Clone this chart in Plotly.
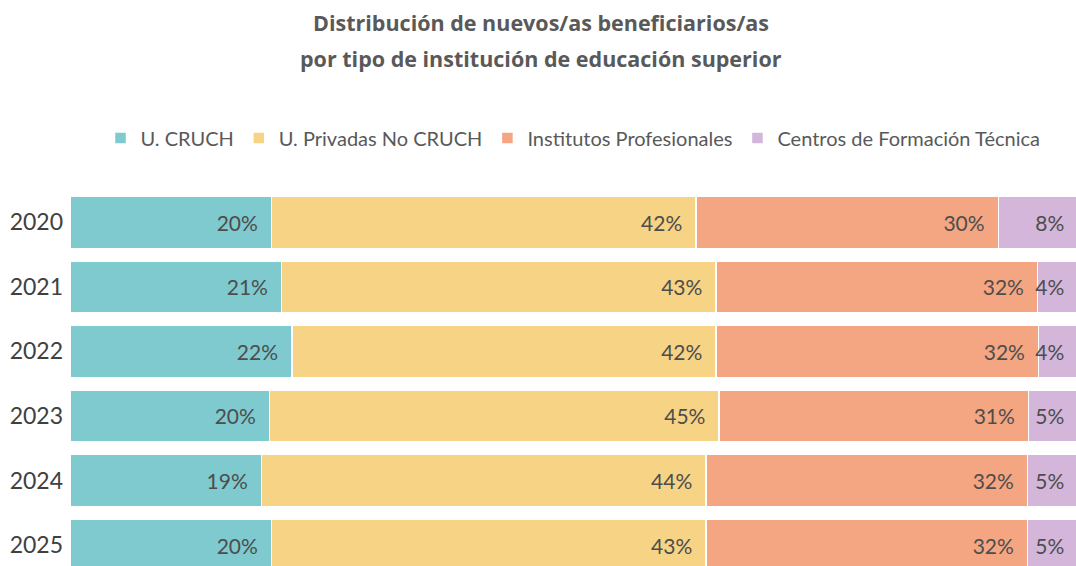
import plotly.graph_objects as go

years = ["2020", "2021", "2022", "2023", "2024", "2025"]
series_names = ["U. CRUCH", "U. Privadas No CRUCH", "Institutos Profesionales", "Centros de Formación Técnica"]
cruch = [20.0, 21.0, 22.0, 19.8, 19.0, 20.0]
privadas = [42.1, 43.1, 42.1, 44.6, 44.1, 43.1]
institutos = [30.0, 31.9, 32.0, 30.7, 31.9, 31.9]
cft = [7.9, 4.0, 3.9, 4.9, 5.0, 5.0]
colors = ["#7ECACF", "#F7D385", "#F4A582", "#D3B6DA"]

W, H = 1076, 566
L, T = 70, 190

fig = go.Figure()
for name, vals, col in zip(series_names, [cruch, privadas, institutos, cft], colors):
    fig.add_trace(go.Bar(
        y=years, x=vals, name=name, orientation="h",
        marker=dict(color=col, line=dict(color="white", width=1.5)),
        texttemplate="%{x:.0f}%\u00a0\u00a0",
        textposition="inside", insidetextanchor="end", textangle=0,
        constraintext="none",
        textfont=dict(family="Lato", size=21, color="#4d4d4d"),
        hoverinfo="skip",
    ))

title_font = dict(family="Open Sans", size=21.5, color="#595959")
fig.update_layout(
    barmode="stack",
    bargap=0.195,
    width=W, height=H,
    margin=dict(l=L, r=0, t=T, b=0, autoexpand=False),
    paper_bgcolor="white", plot_bgcolor="white",
    font=dict(family="Lato", color="#595959"),
    uniformtext=dict(mode="show", minsize=21),
    title=dict(
        text="<b>Distribución de nuevos/as beneficiarios/as</b>",
        x=541 / W, xref="container", xanchor="center",
        y=1 - 23 / H, yref="container", yanchor="middle",
        font=title_font,
    ),
    annotations=[dict(
        text="<b>por tipo de institución de educación superior</b>",
        xref="paper", yref="paper",
        x=(541 - L) / (W - L), y=(H - 58) / (H - T),
        xanchor="center", yanchor="middle", showarrow=False,
        font=title_font,
    )],
    legend=dict(
        orientation="h", x=(573 - L) / (W - L), xanchor="center",
        y=(H - 138) / (H - T), yanchor="middle",
        font=dict(family="Lato", size=20, color="#595959"),
        traceorder="normal", itemclick=False, itemdoubleclick=False,
    ),
    xaxis=dict(range=[0, 99.8], visible=False, fixedrange=True),
    yaxis=dict(range=[5.325, -0.5], showgrid=False, zeroline=False, ticks="",
               ticklabelstandoff=6, automargin=False,
               tickfont=dict(family="Lato", size=23, color="#404040"), fixedrange=True),
)

fig.write_html("out.html", config={"displayModeBar": False},
               post_script="document.body.style.margin='0';")
